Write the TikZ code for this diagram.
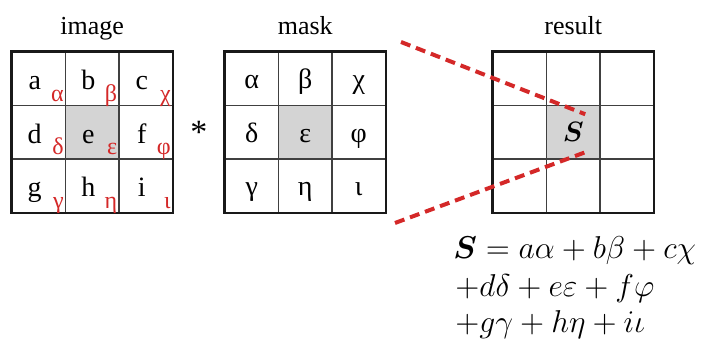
\RequirePackage{fix-cm}
\documentclass[tikz,border=0pt]{standalone}
\usepackage{amsmath,amssymb}
\usepackage{fontspec}
\setmainfont{Liberation Serif}
\usetikzlibrary{positioning, calc}

\definecolor{wred}{RGB}{212,40,40}

\begin{document}
\begin{tikzpicture}[
    x=0.5pt, y=-0.5pt,
    cell/.style={rectangle, draw=black!75, line width=0.6pt, minimum size=26.75pt, inner sep=0pt},
    frame/.style={draw=black!90, line width=1.3pt},
    title/.style={font=\fontsize{13}{15}\selectfont, anchor=base, inner sep=0pt},
    letter/.style={font=\fontsize{14}{16}\selectfont, anchor=base, inner sep=0pt},
    weight/.style={font=\fontsize{12}{14}\selectfont, text=wred, anchor=base east, inner sep=0pt},
    guide/.style={draw=wred, line width=2pt, dash pattern=on 5pt off 3pt},
    eqline/.style={font=\fontsize{15.8}{18}\selectfont, anchor=base west, inner sep=0pt},
]
    \useasboundingbox (0,0) rectangle (702,340);

    % Grids
    \foreach \g/\lft in {img/12, msk/225, res/493} {
      \foreach \r in {1,2,3}
        \foreach \c in {1,2,3} {
          \ifnum\r\c=22 \def\tone{black!17}\else\def\tone{white}\fi
          \node (\g-\r-\c) [cell, fill=\tone] at ({\lft+26.75+53.5*(\c-1)}, {52+26.75+53.5*(\r-1)}) {};
        }
      \draw [frame] (\g-1-1.north west) rectangle (\g-3-3.south east);
    }

    % Titles
    \node (imgtitle) [title] at ($(img-1-2.north)+(0,-17)$) {image};
    \node (msktitle) [title] at ($(msk-1-2.north)+(0,-17)$) {mask};
    \node (restitle) [title] at ($(res-1-2.north)+(0,-17)$) {result};

    % Cell entries
    \foreach \r/\c/\txt/\w in {1/1/a/α, 1/2/b/β, 1/3/c/χ, 2/1/d/δ, 2/2/e/ε, 2/3/f/φ, 3/1/g/γ, 3/2/h/η, 3/3/i/ι} {
      \node (imgl-\r-\c) [letter] at ($(img-\r-\c)+(-4,11)$) {\txt};
      \node (imgw-\r-\c) [weight] at ($(img-\r-\c.south east)+(-2,-5)$) {\w};
      \node (mskl-\r-\c) [letter] at ($(msk-\r-\c)+(0,10)$) {\w};
    }

    % Convolution sign
    \node (conv) [font=\fontsize{17}{19}\selectfont] at ($(img-2-3.east)!0.5!(msk-2-1.west)$) {*};

    % Result
    \node (sum) [font=\fontsize{14}{16}\selectfont] at (res-2-2) {$\boldsymbol{S}$};

    % Guides
    \coordinate (topfar) at (401,42);
    \coordinate (botfar) at (395,223);
    \coordinate (toptip) at ($(res-2-2)+(12,-18)$);
    \coordinate (bottip) at ($(res-2-2)+(12,20)$);
    \draw [guide] (topfar) -- (toptip);
    \draw [guide] (botfar) -- (bottip);

    % Sum formula
    \node (eq1) [eqline] at (453,259) {$\boldsymbol{S} = a\alpha + b\beta + c\chi$};
    \node (eq2) [eqline] at ($(eq1.base west)+(2,38)$) {$+d\delta + e\varepsilon + f\varphi$};
    \node (eq3) [eqline] at ($(eq2.base west)+(0,36)$) {$+g\gamma + h\eta + i\iota$};

\end{tikzpicture}
\end{document}
